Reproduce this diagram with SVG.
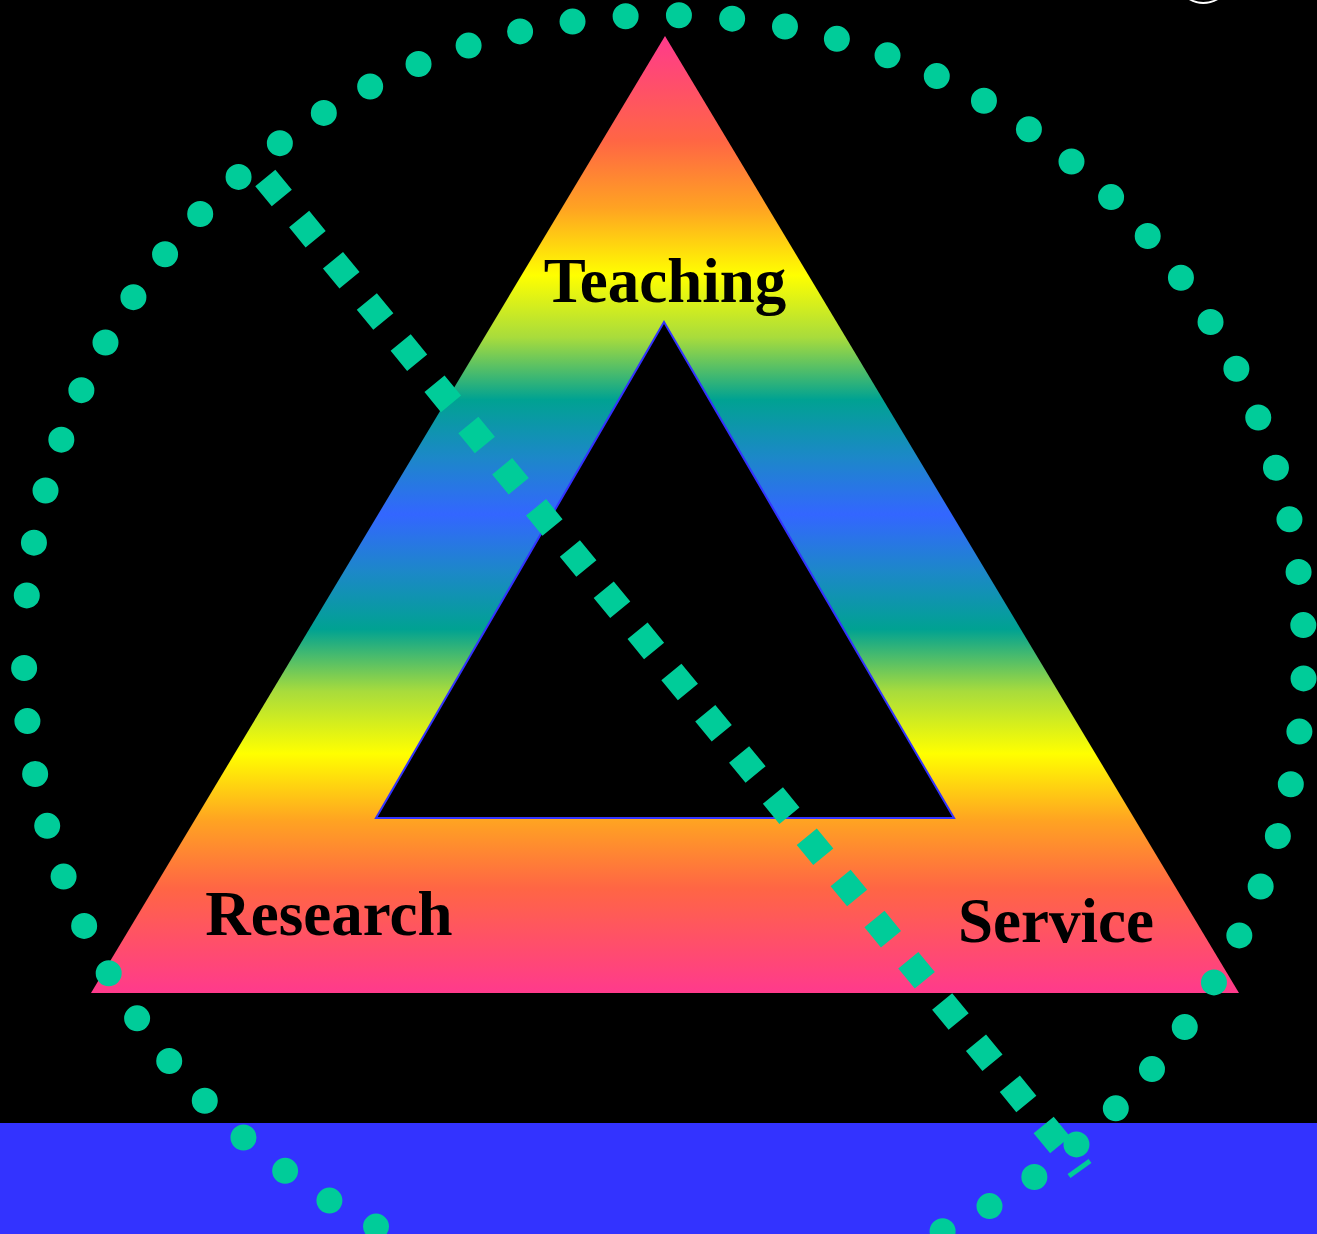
<svg xmlns="http://www.w3.org/2000/svg" width="1317" height="1234" viewBox="0 0 1317 1234">
  <defs>
    <linearGradient id="rainbow" gradientUnits="userSpaceOnUse" x1="0" y1="36" x2="0" y2="993">
      <stop offset="0" stop-color="#ff3a8c"/>
      <stop offset="0.11" stop-color="#ff6644"/>
      <stop offset="0.18" stop-color="#ffa322"/>
      <stop offset="0.25" stop-color="#ffff00"/>
      <stop offset="0.315" stop-color="#a8dc3c"/>
      <stop offset="0.38" stop-color="#00a292"/>
      <stop offset="0.44" stop-color="#1c88c8"/>
      <stop offset="0.5" stop-color="#3366ff"/>
      <stop offset="0.56" stop-color="#1c88c8"/>
      <stop offset="0.62" stop-color="#00a292"/>
      <stop offset="0.685" stop-color="#a8dc3c"/>
      <stop offset="0.75" stop-color="#ffff00"/>
      <stop offset="0.82" stop-color="#ffa322"/>
      <stop offset="0.89" stop-color="#ff6644"/>
      <stop offset="1" stop-color="#ff3a8c"/>
    </linearGradient>
  </defs>
  <style>
    .label { font-family: "Liberation Serif", "Times New Roman", serif; font-weight: bold; font-size: 63px; fill: #000; text-anchor: middle; }
    .dots { fill: none; stroke: #00cc99; stroke-width: 26; stroke-linecap: round; stroke-dasharray: 0 53.35; }
    .dashes { fill: none; stroke: #00cc99; stroke-width: 26; stroke-linecap: butt; stroke-dasharray: 26 27.3; }
  </style>
  <rect x="0" y="0" width="1317" height="1234" fill="#000"/>
  <rect x="0" y="1123" width="1317" height="111" fill="#3333ff"/>
  <path d="M1189 0 Q1203 8 1218 0 L1214 0 Q1203 4 1193 0 Z" fill="#fff"/>

  <g id="triangle">
    <polygon points="665,36 1239,993 91,993" fill="url(#rainbow)"/>
    <polygon points="664,322 954,818 376,818" fill="#000" stroke="#3333ff" stroke-width="2"/>
  </g>

  <g id="teaching"><text class="label" x="665" y="302">Teaching</text></g>
  <g id="research"><text class="label" x="329" y="935">Research</text></g>
  <g id="service"><text class="label" x="1056" y="942">Service</text></g>

  <g id="connectors">
    <path class="dots" d="M24.13 667.96 A640 640 0 1 0 26.78 595.44"/>
    <path class="dashes" d="M265.3 177.9 L1060.2 1145.1"/>
    <line x1="1069" y1="1176" x2="1090" y2="1161" stroke="#00cc99" stroke-width="5"/>
  </g>
</svg>
